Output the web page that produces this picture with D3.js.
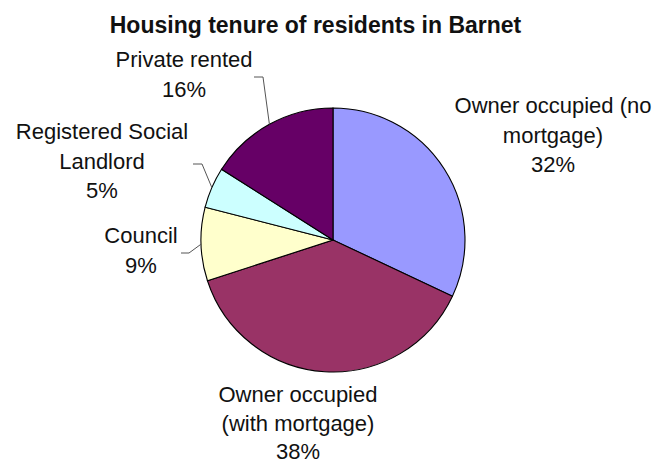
<!DOCTYPE html>
<html>
<head>
<meta charset="utf-8">
<script src="https://cdn.jsdelivr.net/npm/d3@7"></script>
<style>
  html, body { margin: 0; padding: 0; background: #ffffff; }
  svg { display: block; }
  text { font-family: "Liberation Sans", Arial, sans-serif; fill: #111; }
</style>
</head>
<body>
<svg id="chart" width="655" height="464"></svg>
<script>
// Housing tenure shares (percent), clockwise from 12 o'clock
const categories = [
  "Owner occupied (no mortgage)",
  "Owner occupied (with mortgage)",
  "Council",
  "Registered Social Landlord",
  "Private rented"
];
const values = [32, 38, 9, 5, 16];
const labelLines = [
  ["Owner occupied (no", "mortgage)"],
  ["Owner occupied", "(with mortgage)"],
  ["Council"],
  ["Registered Social", "Landlord"],
  ["Private rented"]
];
const colors = ["#9999FF", "#993366", "#FFFFCC", "#CCFFFF", "#660066"];
const title = "Housing tenure of residents in Barnet";

// Label placement: text centre x, first baseline y, line gap, optional leader elbow
const labelLayout = [
  { x: 553, y: 113, gap: 29.5 },
  { x: 298, y: 402, gap: 28.5 },
  { x: 141, y: 243, gap: 29.5, elbow: [189, 253], tail: 8 },
  { x: 102, y: 139, gap: 29.5, elbow: [202, 164], tail: 9 },
  { x: 184, y: 67,  gap: 29.5, elbow: [263, 77],  tail: 9 }
];

const svg = d3.select("#chart");
const cx = 333, cy = 240, radius = 132;

svg.append("text")
  .attr("x", 315.5)
  .attr("y", 33)
  .attr("text-anchor", "middle")
  .style("font-size", "23px")
  .style("font-weight", "bold")
  .text(title);

const data = categories.map((c, i) => ({ name: c, value: values[i], i }));

const pie = d3.pie().sort(null).value(d => d.value).startAngle(0).endAngle(2 * Math.PI);
const arcs = pie(data);
const arc = d3.arc().innerRadius(0).outerRadius(radius);

const g = svg.append("g").attr("transform", `translate(${cx},${cy})`);

g.selectAll("path.slice")
  .data(arcs)
  .join("path")
  .attr("class", "slice")
  .attr("d", arc)
  .attr("fill", d => colors[d.data.i])
  .attr("stroke", "#000")
  .attr("stroke-width", 1.1);

// Leader lines from the slice's mid-angle on the rim to an elbow, then across
arcs.forEach(d => {
  const lay = labelLayout[d.data.i];
  if (!lay.elbow) return;
  const mid = (d.startAngle + d.endAngle) / 2;
  const px = cx + radius * Math.sin(mid);
  const py = cy - radius * Math.cos(mid);
  const [ex, ey] = lay.elbow;
  svg.append("polyline")
    .attr("points", `${px},${py} ${ex},${ey} ${ex - lay.tail},${ey}`)
    .attr("fill", "none")
    .attr("stroke", "#555")
    .attr("stroke-width", 1);
});

// Slice labels with percentage
arcs.forEach(d => {
  const i = d.data.i;
  const lay = labelLayout[i];
  const lines = labelLines[i].concat([d3.format(".0f")(d.data.value) + "%"]);
  const t = svg.append("text")
    .attr("text-anchor", "middle")
    .style("font-size", "22px");
  lines.forEach((ln, k) => {
    t.append("tspan")
      .attr("x", lay.x)
      .attr("y", lay.y + k * lay.gap)
      .text(ln);
  });
});
</script>
</body>
</html>
